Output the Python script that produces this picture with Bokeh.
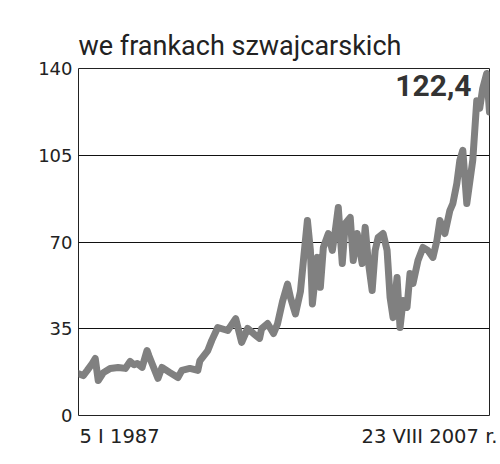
from bokeh.plotting import figure
from bokeh.models import Range1d, FixedTicker, Label
from bokeh.embed import file_html
from bokeh.resources import INLINE

# Data (decimal year, price in CHF)
years = [1987.01, 1987.25, 1987.45, 1987.7, 1987.85, 1988.0, 1988.26, 1988.6, 1989.0, 1989.36,
         1989.6, 1989.8, 1989.96, 1990.2, 1990.45, 1990.55, 1990.7, 1991.0, 1991.2, 1991.6,
         1992.0, 1992.2, 1992.6, 1993.0, 1993.1, 1993.5, 1993.7, 1994.0, 1994.5, 1994.9,
         1995.2, 1995.5, 1995.8, 1996.1, 1996.2, 1996.5, 1996.8, 1997.0, 1997.25, 1997.5,
         1997.65, 1997.9, 1998.15, 1998.3, 1998.5, 1998.65, 1998.75, 1999.0, 1999.15, 1999.3,
         1999.55, 1999.75, 1999.9, 2000.05, 2000.25, 2000.4, 2000.65, 2000.8, 2001.0, 2001.25,
         2001.4, 2001.55, 2001.75, 2001.9, 2002.05, 2002.3, 2002.5, 2002.65, 2002.8, 2003.0,
         2003.15, 2003.3, 2003.5, 2003.65, 2003.8, 2004.05, 2004.3, 2004.55, 2004.8, 2005.0,
         2005.15, 2005.4, 2005.65, 2005.8, 2006.0, 2006.15, 2006.3, 2006.5, 2006.8, 2007.0,
         2007.15, 2007.3, 2007.5, 2007.64]
prices = [16.9, 16.1, 18.2, 21.0, 23.0, 14.1, 17.3, 19.0, 19.4, 19.0,
          21.8, 20.5, 21.0, 19.4, 26.2, 24.0, 21.0, 15.0, 19.4, 17.3,
          15.3, 18.2, 19.0, 18.2, 22.0, 26.2, 30.3, 35.5, 34.3, 39.1,
          29.5, 35.1, 33.0, 31.1, 35.0, 37.1, 33.1, 37.0, 46.0, 53.0,
          47.6, 41.0, 50.0, 62.5, 78.7, 66.6, 45.0, 63.8, 51.7, 67.8,
          73.4, 66.6, 74.6, 83.9, 61.3, 77.5, 79.9, 62.5, 73.4, 61.3,
          75.9, 62.5, 50.4, 66.6, 71.8, 73.4, 66.6, 47.6, 39.5, 55.7,
          35.5, 46.4, 43.6, 57.3, 53.3, 62.5, 67.8, 66.6, 63.8, 70.6,
          78.7, 73.4, 82.7, 85.5, 93.6, 102.9, 107.0, 85.5, 103.0, 127.0,
          124.0, 132.0, 138.0, 122.4]

y_ticks = [0, 35, 70, 105, 140]
title_text = "we frankach szwajcarskich"
last_label = "122,4"
# date labels under the axis ends (anchored at the centre of each label)
date_label_anchors = [1989.07, 2004.63]
date_labels = ["5 I 1987", "23 VIII 2007 r."]

p = figure(width=500, height=464, output_backend="svg", toolbar_location=None,
           x_range=Range1d(years[0], years[-1]), y_range=Range1d(0, 140),
           min_border_left=78, min_border_right=11, min_border_top=68, min_border_bottom=49)

p.background_fill_color = "white"
p.border_fill_color = "white"
p.outline_line_color = "#222222"
p.outline_line_width = 1

p.title.text = title_text
p.title.align = "left"
p.title.text_font = "Roboto"
p.title.text_font_size = "27px"
p.title.text_font_style = "normal"
p.title.text_color = "#222222"
p.title.standoff = 13

p.xgrid.visible = False
p.ygrid.ticker = FixedTicker(ticks=y_ticks)
p.ygrid.grid_line_color = "#111111"
p.ygrid.grid_line_width = 1

ya = p.yaxis[0]
ya.ticker = FixedTicker(ticks=y_ticks)
ya.axis_line_color = None
ya.major_tick_line_color = None
ya.minor_tick_line_color = None
ya.major_tick_in = 0
ya.major_tick_out = 0
ya.minor_tick_in = 0
ya.minor_tick_out = 0
ya.major_label_standoff = 6
ya.major_label_text_font = "DejaVu Sans"
ya.major_label_text_font_size = "18px"
ya.major_label_text_color = "#222222"

xa = p.xaxis[0]
xa.ticker = FixedTicker(ticks=date_label_anchors)
xa.major_label_overrides = {t: s for t, s in zip(date_label_anchors, date_labels)}
xa.axis_line_color = None
xa.major_tick_line_color = None
xa.minor_tick_line_color = None
xa.major_tick_in = 0
xa.major_tick_out = 0
xa.minor_tick_in = 0
xa.minor_tick_out = 0
xa.major_label_standoff = 9
xa.major_label_text_font = "DejaVu Sans"
xa.major_label_text_font_size = "19.5px"
xa.major_label_text_color = "#222222"

p.line(years, prices, line_color="#808080", line_width=7, line_join="round", line_cap="round")

p.add_layout(Label(x=years[-1], y=140, x_offset=-18, y_offset=-17, text=last_label,
                   text_align="right", text_baseline="alphabetic", text_font="Roboto",
                   text_font_style="bold", text_font_size="30px", text_color="#333333"))

open("out.html", "w").write(file_html(p, INLINE))
